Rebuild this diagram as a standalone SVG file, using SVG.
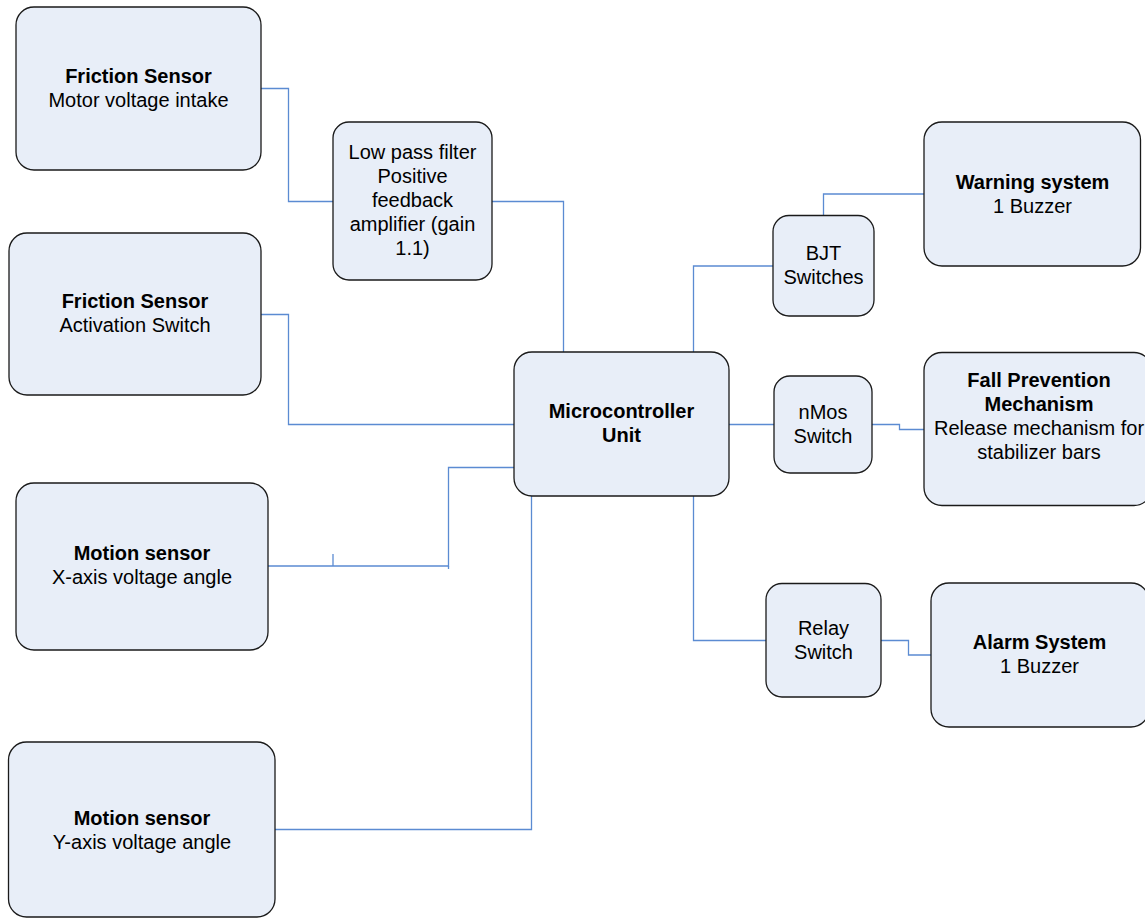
<svg xmlns="http://www.w3.org/2000/svg" width="1145" height="918" viewBox="0 0 1145 918">
<style>
.box{fill:#e8eef8;stroke:#1a1a1a;stroke-width:1.3}
.t{font-family:"Liberation Sans",Arial,sans-serif;font-size:20px;fill:#000;text-anchor:middle}
.b{font-weight:bold}
.c{fill:none;stroke:#5b8bd2;stroke-width:1.3}
</style>
<rect width="1145" height="918" fill="#ffffff"/>
<g id="connectors">
<polyline class="c" points="261,88.5 288.5,88.5 288.5,201.5 333,201.5"/>
<polyline class="c" points="492,201.5 563.5,201.5 563.5,352"/>
<polyline class="c" points="261,314.5 288.5,314.5 288.5,424.5 514,424.5"/>
<polyline class="c" points="268,566 448.5,566 448.5,467.5 514,467.5"/>
<line class="c" x1="448.5" y1="566" x2="448.5" y2="569"/>
<line class="c" x1="333" y1="554" x2="333" y2="566"/>
<polyline class="c" points="275,829.5 531.5,829.5 531.5,496"/>
<polyline class="c" points="693.5,352 693.5,266 773,266"/>
<polyline class="c" points="823.5,215 823.5,194 924,194"/>
<line class="c" x1="729" y1="424.5" x2="774" y2="424.5"/>
<polyline class="c" points="872,424.5 899.5,424.5 899.5,429.5 924,429.5"/>
<line class="c" x1="621.5" y1="424" x2="621.5" y2="436"/>
<polyline class="c" points="693.5,496 693.5,640.5 766,640.5"/>
<polyline class="c" points="881,640.5 908.5,640.5 908.5,655 931,655"/>
</g>
<g id="friction-motor">
<rect class="box" x="16" y="7" width="245" height="163" rx="18"/>
<text class="t b" x="138.5" y="82.5">Friction Sensor</text>
<text class="t" x="138.5" y="106.5">Motor voltage intake</text>
</g>
<g id="lowpass">
<rect class="box" x="333" y="122" width="159" height="158" rx="16"/>
<text class="t" x="412.5" y="158.5">Low pass filter</text>
<text class="t" x="412.5" y="182.5">Positive</text>
<text class="t" x="412.5" y="206.5">feedback</text>
<text class="t" x="412.5" y="230.5">amplifier (gain</text>
<text class="t" x="412.5" y="254.5">1.1)</text>
</g>
<g id="friction-activation">
<rect class="box" x="9" y="233" width="252" height="162" rx="18"/>
<text class="t b" x="135" y="307.5">Friction Sensor</text>
<text class="t" x="135" y="331.5">Activation Switch</text>
</g>
<g id="motion-x">
<rect class="box" x="16" y="483" width="252" height="167" rx="18"/>
<text class="t b" x="142" y="559.5">Motion sensor</text>
<text class="t" x="142" y="583.5">X-axis voltage angle</text>
</g>
<g id="motion-y">
<rect class="box" x="8.5" y="742" width="266.5" height="175" rx="18"/>
<text class="t b" x="142" y="824.5">Motion sensor</text>
<text class="t" x="142" y="848.5">Y-axis voltage angle</text>
</g>
<g id="mcu">
<rect class="box" x="514" y="352" width="215" height="144" rx="18"/>
<text class="t b" x="621.5" y="418">Microcontroller</text>
<text class="t b" x="621.5" y="442">Unit</text>
</g>
<g id="bjt">
<rect class="box" x="773" y="215.5" width="101" height="100.5" rx="16"/>
<text class="t" x="823.5" y="259.5">BJT</text>
<text class="t" x="823.5" y="283.5">Switches</text>
</g>
<g id="nmos">
<rect class="box" x="774" y="376" width="98" height="97" rx="16"/>
<text class="t" x="823" y="418.5">nMos</text>
<text class="t" x="823" y="442.5">Switch</text>
</g>
<g id="relay">
<rect class="box" x="766" y="583.5" width="115" height="113.5" rx="16"/>
<text class="t" x="823.5" y="634.5">Relay</text>
<text class="t" x="823.5" y="658.5">Switch</text>
</g>
<g id="warning">
<rect class="box" x="924" y="122" width="216.5" height="144" rx="18"/>
<text class="t b" x="1032.5" y="188.5">Warning system</text>
<text class="t" x="1032.5" y="212.5">1 Buzzer</text>
</g>
<g id="fall">
<rect class="box" x="924" y="352.5" width="228" height="153" rx="18"/>
<text class="t b" x="1039" y="386.5">Fall Prevention</text>
<text class="t b" x="1039" y="410.5">Mechanism</text>
<text class="t" x="1039" y="434.5">Release mechanism for</text>
<text class="t" x="1039" y="458.5">stabilizer bars</text>
</g>
<g id="alarm">
<rect class="box" x="931" y="583" width="218" height="144" rx="18"/>
<text class="t b" x="1039.5" y="648.5">Alarm System</text>
<text class="t" x="1039.5" y="672.5">1 Buzzer</text>
</g>
</svg>
